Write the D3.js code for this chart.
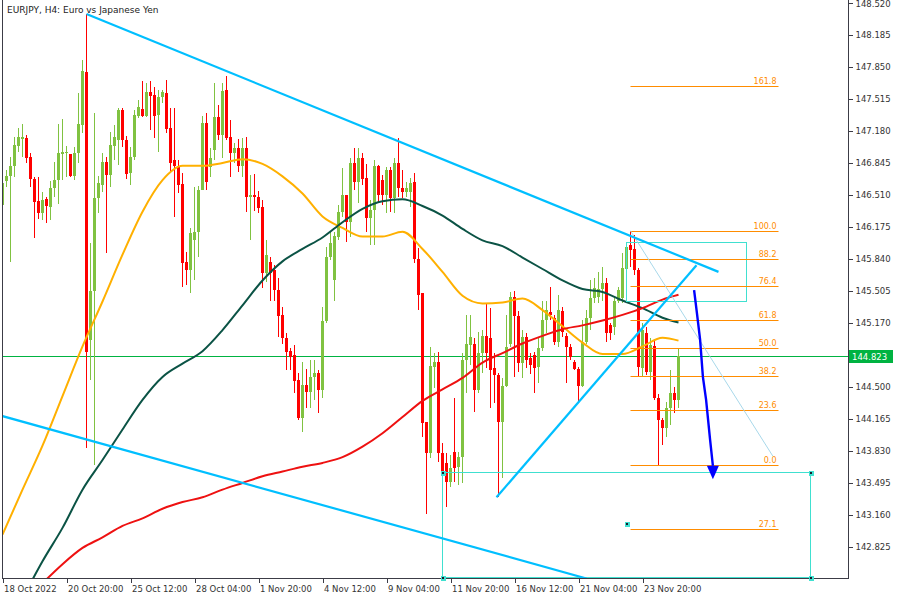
<!DOCTYPE html>
<html><head><meta charset="utf-8">
<script src="https://cdn.jsdelivr.net/npm/d3@7/dist/d3.min.js"></script>
<style>body{margin:0;background:#fff}svg{display:block}text{font-family:"DejaVu Sans",sans-serif}</style>
</head><body><svg id="c" width="900" height="600"></svg>
<script>
const title = "EURJPY, H4:  Euro vs Japanese Yen";
const openP = [146.40,146.65,146.70,146.81,147.02,147.09,147.10,146.90,146.67,146.44,
146.32,146.46,146.38,146.58,146.66,146.93,146.94,146.93,146.70,146.94,
147.24,147.79,144.99,145.50,146.47,146.61,146.85,146.71,147.02,147.08,
147.39,147.08,146.73,146.90,147.33,147.40,147.33,147.58,147.55,147.34,
147.53,147.57,147.21,146.87,146.81,146.62,145.80,145.72,146.03,146.12,
146.56,147.26,146.80,146.98,147.32,147.13,147.60,147.11,146.94,147.00,
146.81,147.00,146.48,146.51,146.48,146.38,145.69,145.80,145.72,145.51,
145.25,145.01,144.87,144.83,144.57,144.17,144.52,144.44,144.60,144.64,
144.46,145.19,145.86,145.61,146.06,146.33,146.50,146.22,146.84,146.64,
146.89,146.68,146.26,146.35,146.81,146.66,146.50,146.77,146.47,146.84,
146.58,146.54,146.54,146.64,145.84,145.48,144.13,143.80,144.70,144.76,
143.80,143.70,143.50,143.81,143.66,143.76,144.78,144.93,144.95,144.46,
144.85,145.03,145.01,144.69,144.62,144.13,144.51,144.95,145.44,145.24,
144.75,145.02,144.80,144.83,144.70,144.90,145.20,145.28,145.22,144.97,
145.29,145.03,144.91,144.76,144.68,144.51,144.97,145.22,145.43,145.44,
145.52,145.58,145.14,145.12,145.40,145.43,145.73,145.98,145.94,145.72,
144.69,145.06,144.65,144.92,144.38,144.15,144.07,144.28,144.43,144.36];
const highP = [146.68,146.77,146.90,147.11,147.21,147.25,147.13,146.94,146.69,146.69,
146.54,146.48,146.65,146.85,147.25,147.30,147.02,146.93,147.01,147.57,
147.92,148.40,146.00,147.36,146.70,146.94,146.90,147.16,147.24,147.42,
147.42,147.12,147.01,147.39,147.50,147.70,147.68,147.70,147.64,147.60,
147.60,147.71,147.42,147.42,146.87,146.73,145.91,146.16,146.59,146.60,
147.33,147.36,147.00,147.68,147.45,147.68,147.75,147.29,147.05,147.09,
147.10,147.11,146.71,146.72,146.55,146.45,146.03,145.86,145.77,145.64,
145.33,145.06,144.90,144.93,144.64,144.76,144.68,144.78,144.78,144.67,
145.33,145.96,146.12,146.12,146.40,146.79,146.51,146.89,147.00,147.00,
146.94,146.83,146.45,146.87,146.82,146.71,146.80,146.80,146.89,147.10,
146.77,146.64,146.68,146.73,145.95,145.48,144.13,144.91,144.85,144.86,
143.91,143.80,143.78,144.38,143.81,144.85,145.25,145.25,145.01,145.07,
145.09,145.36,145.32,144.85,144.64,144.59,145.25,145.49,145.50,145.29,
145.09,145.06,144.85,144.86,145.02,145.40,145.40,145.54,145.25,145.46,
145.33,145.06,144.95,144.78,144.70,145.20,145.30,145.61,145.64,145.70,
145.75,145.64,145.17,145.44,145.54,145.90,145.98,146.13,146.09,145.74,
145.16,145.12,145.01,144.99,144.42,144.17,144.34,144.67,144.50,144.90];
const lowP = [146.39,146.59,145.80,146.69,146.95,146.90,146.84,146.59,146.05,146.25,
146.24,146.21,146.24,146.48,146.41,146.66,146.69,146.69,146.66,146.84,
147.15,143.86,144.57,143.68,146.32,146.54,145.90,146.59,146.87,146.82,
147.01,146.67,146.61,146.87,147.31,147.32,147.32,147.19,147.10,146.95,
147.47,147.15,146.73,146.27,146.53,145.54,145.56,145.48,145.61,145.86,
146.56,146.56,146.69,146.87,147.08,146.89,147.08,146.69,146.84,146.75,
146.69,146.33,146.03,146.34,146.32,145.53,145.59,145.40,145.40,145.02,
144.95,144.67,144.67,144.43,144.15,144.02,144.28,144.28,144.36,144.22,
144.38,145.17,145.82,145.40,146.03,146.27,146.01,146.06,146.56,146.42,
146.61,146.12,145.98,145.98,146.43,146.40,146.32,146.33,146.32,146.48,
146.47,146.48,146.38,145.79,145.30,143.97,143.17,143.75,144.48,143.71,
143.52,143.24,143.45,143.50,143.47,143.49,144.43,144.72,144.23,144.43,
144.64,144.69,144.28,144.33,143.34,143.54,144.49,144.91,144.60,144.65,
144.59,144.69,144.63,144.43,144.54,144.87,145.06,145.20,144.93,144.91,
145.02,144.54,144.78,144.67,144.34,144.49,144.95,145.09,145.37,145.37,
145.40,144.97,144.99,145.04,145.37,145.37,145.72,145.75,145.67,144.60,
144.60,144.62,144.57,144.36,143.68,143.89,143.97,144.10,144.22,144.27];
const closeP = [146.63,146.70,146.81,147.03,147.11,147.11,146.89,146.67,146.43,146.32,
146.45,146.39,146.58,146.66,146.94,146.95,146.95,146.70,146.94,147.25,
147.80,144.86,145.50,146.47,146.63,146.85,146.71,147.03,147.11,147.39,
147.08,146.72,146.90,147.34,147.43,147.33,147.58,147.54,147.33,147.53,
147.58,147.20,146.84,146.81,146.61,145.79,145.72,146.11,146.12,146.56,
147.26,146.64,146.89,147.32,147.13,147.59,147.10,146.94,147.00,146.81,
147.00,146.48,146.50,146.48,146.37,145.69,145.88,145.69,145.51,145.24,
145.01,144.86,144.81,144.56,144.17,144.52,144.44,144.60,144.64,144.46,
145.19,145.86,146.00,146.08,146.33,146.50,146.22,146.84,146.64,146.89,
146.67,146.26,146.35,146.81,146.50,146.50,146.77,146.47,146.84,146.58,
146.54,146.58,146.63,145.84,145.46,144.12,143.80,144.71,144.76,143.80,
143.60,143.50,143.65,143.65,143.76,144.78,144.95,145.02,144.46,144.85,
145.03,144.85,144.67,144.62,144.13,144.51,144.91,145.44,145.24,144.75,
145.02,144.78,144.72,144.69,144.90,145.20,145.30,145.25,144.97,145.30,
145.07,144.91,144.81,144.68,144.51,144.97,145.22,145.43,145.53,145.52,
145.58,145.06,145.06,145.40,145.51,145.74,145.96,145.93,145.72,144.70,
145.09,144.65,144.93,144.38,144.15,144.07,144.28,144.43,144.36,144.823];

const xTickBars = [0,16,32,48,64,80,96,112,128,144,160];
const xTickLabels = ["18 Oct 2022","20 Oct 20:00","25 Oct 12:00","28 Oct 04:00","1 Nov 20:00","4 Nov 12:00","9 Nov 04:00","11 Nov 20:00","16 Nov 12:00","21 Nov 04:00","23 Nov 20:00"];
const yTickValues = [148.520,148.185,147.850,147.515,147.180,146.845,146.510,146.175,145.840,145.505,145.170,144.500,144.165,143.830,143.495,143.160,142.825];
const lastPrice = 144.823;

const maFastBars = [0,5,10,15,20,25,30,35,40,45,50,55,60,65,70,75,80,85,90,95,100,105,110,115,120,125,130,135,140,145,150,155,160,165,169];
const maFastValues = [142.95,143.42,143.88,144.40,144.92,145.39,145.88,146.33,146.66,146.81,146.81,146.84,146.88,146.83,146.70,146.52,146.28,146.16,146.07,146.07,146.12,145.94,145.70,145.45,145.37,145.38,145.42,145.30,145.13,144.96,144.84,144.84,144.92,145.01,144.98];
const maMidBars = [7,10,15,20,25,30,35,40,45,50,55,60,65,70,75,80,85,90,95,100,105,110,115,120,125,130,135,140,145,150,155,160,165,169];
const maMidValues = [142.44,142.67,143.02,143.42,143.73,144.05,144.36,144.60,144.74,144.87,145.09,145.35,145.61,145.81,145.94,146.06,146.22,146.36,146.44,146.46,146.39,146.29,146.15,146.03,145.97,145.85,145.73,145.61,145.52,145.49,145.40,145.32,145.22,145.17];
const maSlowBars = [10,15,20,25,30,35,40,45,50,55,60,65,70,75,80,85,90,95,100,105,110,115,120,125,130,135,140,145,150,155,160,165,169];
const maSlowValues = [142.44,142.64,142.81,142.92,143.04,143.12,143.22,143.29,143.34,143.42,143.49,143.56,143.61,143.66,143.70,143.76,143.87,144.01,144.18,144.35,144.47,144.59,144.75,144.85,144.95,145.03,145.10,145.14,145.19,145.25,145.32,145.41,145.46];

// trend lines: [bar, price] endpoints
const upperTrend = [[21,148.40],[179,145.70]];
const lowerTrend = [[0,144.19],[146,142.49]];
const riseTrend = [[123.5,143.34],[173.5,145.77]];
const thinDiag = [[157,146.13],[192.6,143.77]];
const arrowPath = [[172.9,145.51],[173.6,145.27],[174.4,144.99],[175.1,144.60],[175.9,144.36],[176.9,143.94],[177.6,143.67]];
const arrowTip = [177.6,143.53];
// fibonacci
const fibBars = [157,194];
const fib100 = 146.127, fib0 = 143.677;
const fibLevels = [161.8,100,88.2,76.4,61.8,50,38.2,23.6,0,-27.1];
const fibLabels = ["161.8","100.0","88.2","76.4","61.8","50.0","38.2","23.6","0.0","27.1"];
// rectangles [bar1, price1, bar2, price2]
const smallBox = [155.9,146.01,185.9,145.39];
const bigBox = [109.9,143.61,201.9,142.51];
const extraHandle = [156.1,143.06];

const svg = d3.select("#c");
const L = 3, R = 848, T = 0, B = 578;
const x = d3.scaleLinear().domain([0,1]).range([2.5,6.5]);
const y = d3.scaleLinear().domain([142.825,148.520]).range([546.5,2.5]);

svg.append("rect").attr("width",900).attr("height",600).attr("fill","#fff");
svg.append("defs").append("clipPath").attr("id","pc").append("rect")
  .attr("x",L).attr("y",T).attr("width",R-L).attr("height",B-T);
const g = svg.append("g").attr("clip-path","url(#pc)");

// current price line
const py = Math.round(y(lastPrice)) + 0.5;
g.append("line").attr("x1",L).attr("x2",R).attr("y1",py).attr("y2",py)
  .attr("stroke","#00b341").attr("stroke-width",1).attr("shape-rendering","crispEdges");

// candles
const up = "#80c241", dn = "#ff0000";
const idx = d3.range(openP.length);
const cg = g.append("g").attr("shape-rendering","crispEdges");
cg.selectAll("line.w").data(idx).join("line")
  .attr("x1",i=>x(i)).attr("x2",i=>x(i))
  .attr("y1",i=>y(highP[i])).attr("y2",i=>y(lowP[i]))
  .attr("stroke",i=>closeP[i]>=openP[i]?up:dn).attr("stroke-width",1);
cg.selectAll("rect.b").data(idx).join("rect")
  .attr("x",i=>x(i)-1.5).attr("width",3)
  .attr("y",i=>y(Math.max(openP[i],closeP[i])))
  .attr("height",i=>Math.max(1,Math.abs(y(openP[i])-y(closeP[i]))))
  .attr("fill",i=>closeP[i]>=openP[i]?up:dn);

// moving averages
function maLine(bars, vals, color){
  const pts = bars.map((b,i)=>[x(b),y(vals[i])]);
  g.append("path").attr("d",d3.line().curve(d3.curveMonotoneX)(pts))
    .attr("fill","none").attr("stroke",color).attr("stroke-width",2);
}
maLine(maFastBars, maFastValues, "#ffb000");
maLine(maMidBars, maMidValues, "#0b5345");
maLine(maSlowBars, maSlowValues, "#ee1111");

// rectangles
function box(b, color){
  const x1=Math.round(x(b[0]))+0.5, x2=Math.round(x(b[2]))+0.5;
  const y1=Math.round(y(b[1]))+0.5, y2=Math.round(y(b[3]))+0.5;
  g.append("rect").attr("x",x1).attr("y",y1).attr("width",x2-x1).attr("height",y2-y1)
    .attr("fill","none").attr("stroke",color).attr("stroke-width",1).attr("shape-rendering","crispEdges");
  return [[x1,y1],[x2,y1],[x1,y2],[x2,y2]];
}
box(smallBox,"#40e0d0");
const bigCorners = box(bigBox,"#40e0d0");

// fibonacci
const fx1 = x(fibBars[0]), fx2 = x(fibBars[1]);
const fg = g.append("g");
fibLevels.forEach((lv,i)=>{
  const p = fib0 + lv/100*(fib100-fib0);
  const yy = Math.round(y(p))+0.5;
  fg.append("line").attr("x1",fx1).attr("x2",fx2).attr("y1",yy).attr("y2",yy)
    .attr("stroke","#ff8c00").attr("stroke-width",1.2);
  fg.append("text").attr("x",fx2-2).attr("y",yy-3).attr("text-anchor","end")
    .attr("font-size","8px").attr("fill","#ff8c00").text(fibLabels[i]);
});

// thin diagonal
g.append("line").attr("x1",x(thinDiag[0][0])).attr("y1",y(thinDiag[0][1]))
  .attr("x2",x(thinDiag[1][0])).attr("y2",y(thinDiag[1][1]))
  .attr("stroke","#a8d8ea").attr("stroke-width",1);

// trend lines
[upperTrend, lowerTrend, riseTrend].forEach(t=>{
  g.append("line").attr("x1",x(t[0][0])).attr("y1",y(t[0][1]))
    .attr("x2",x(t[1][0])).attr("y2",y(t[1][1]))
    .attr("stroke","#00bfff").attr("stroke-width",2.2);
});

// arrow
g.append("path").attr("d",d3.line()(arrowPath.map(d=>[x(d[0]),y(d[1])])))
  .attr("fill","none").attr("stroke","#0000ff").attr("stroke-width",2.4);
const ax = x(arrowTip[0]), ay = y(arrowTip[1]), aTop = y(arrowPath[arrowPath.length-1][1]);
g.append("path").attr("d",`M${ax-6},${aTop}L${ax+6},${aTop}L${ax},${ay}Z`).attr("fill","#0000ff");

// frame
svg.append("path").attr("d",`M${L-0.5},${T}V${B+0.5}H${R+0.5}V${T}`)
  .attr("fill","none").attr("stroke","#3c3c46").attr("stroke-width",1).attr("shape-rendering","crispEdges");

// handles (drawn above frame)
function handle(px,py){
  svg.append("rect").attr("x",Math.round(px)-2.5).attr("y",Math.round(py)-2.5).attr("width",5).attr("height",5)
    .attr("fill","#40e0d0").attr("shape-rendering","crispEdges");
  svg.append("rect").attr("x",Math.round(px)-1).attr("y",Math.round(py)-1).attr("width",2).attr("height",2)
    .attr("fill","#1a1a2a").attr("shape-rendering","crispEdges");
}
bigCorners.forEach(c=>handle(c[0],c[1]));
handle(x(extraHandle[0]), y(extraHandle[1]));

// axes
const ya = svg.append("g").attr("transform",`translate(${R+0.5},0)`)
  .call(d3.axisRight(y).tickValues(yTickValues).tickFormat(d3.format(".3f")).tickSize(4).tickPadding(3));
ya.select(".domain").remove();
ya.selectAll("line").attr("stroke","#3c3c46").attr("shape-rendering","crispEdges");
ya.selectAll("text").attr("font-size","8.5px").attr("fill","#333").style("font-family","DejaVu Sans");
ya.selectAll("text").filter(d=>d===yTickValues[0]).attr("dy","0.5em");

const xa = svg.append("g").attr("transform",`translate(0,${B+0.5})`)
  .call(d3.axisBottom(x).tickValues(xTickBars).tickFormat((d,i)=>xTickLabels[i]).tickSize(4).tickPadding(3));
xa.select(".domain").remove();
xa.selectAll("line").attr("stroke","#3c3c46").attr("shape-rendering","crispEdges");
xa.selectAll("text").attr("text-anchor","start").attr("dx","1").attr("font-size","8.5px").attr("fill","#333").style("font-family","DejaVu Sans");

// last price label
svg.append("rect").attr("x",849).attr("y",py-6.5).attr("width",44).attr("height",13).attr("fill","#00b341");
svg.append("text").attr("x",852).attr("y",py+3.5).attr("font-size","8.5px").attr("fill","#fff").text(d3.format(".3f")(lastPrice));

// title
svg.append("text").attr("x",7).attr("y",13).attr("font-size","9px").attr("fill","#222").text(title);
</script></body></html>
